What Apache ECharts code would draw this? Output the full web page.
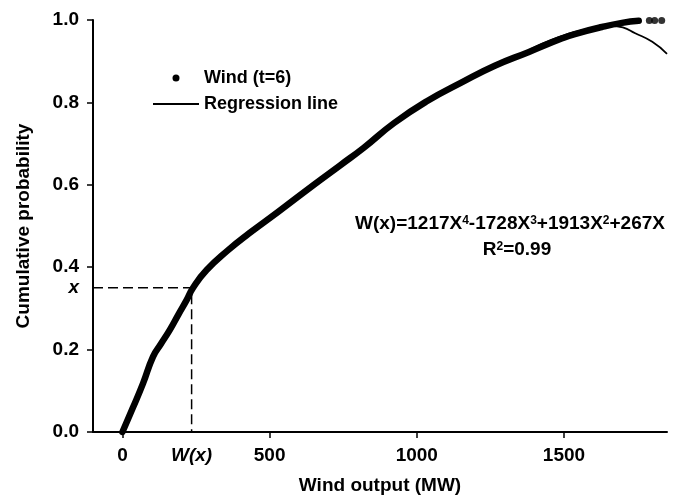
<!DOCTYPE html>
<html>
<head>
<meta charset="utf-8">
<script src="https://cdn.jsdelivr.net/npm/echarts@6/dist/echarts.min.js"></script>
<style>
  html, body { margin: 0; padding: 0; background: #fff; }
  #chart { width: 683px; height: 496px; }
</style>
</head>
<body>
<div id="chart"></div>
<script>
const windOutput = [0, 35, 70, 104, 130, 161, 190, 218, 240, 286, 360, 430, 530, 650, 741, 820, 923, 1037, 1151, 1265, 1379, 1492, 1537, 1629, 1697, 1754];
const windProb = [0, 0.058, 0.118, 0.183, 0.213, 0.248, 0.285, 0.32, 0.35, 0.393, 0.442, 0.482, 0.535, 0.600, 0.648, 0.690, 0.750, 0.804, 0.848, 0.889, 0.922, 0.955, 0.966, 0.983, 0.993, 0.998];

// the few separate points at the top right
const tailOutput = [1790, 1808, 1832];
const tailProb = [0.999, 0.999, 0.999];

// regression line (follows the data, then bends down past ~1650 MW)
const regOutput = [0, 35, 70, 104, 130, 161, 190, 218, 240, 286, 360, 430, 530, 650, 741, 820, 923, 1037, 1151, 1265, 1379, 1424, 1492, 1537, 1600, 1660, 1700, 1742, 1800, 1850];
const regProb = [0, 0.058, 0.118, 0.183, 0.213, 0.248, 0.285, 0.32, 0.35, 0.393, 0.442, 0.482, 0.535, 0.600, 0.648, 0.690, 0.750, 0.804, 0.848, 0.889, 0.926, 0.942, 0.961, 0.971, 0.981, 0.986, 0.982, 0.968, 0.947, 0.918];

// axis ticks
const xTicks = [0, 500, 1000, 1500];
const yTicks = [0, 0.2, 0.4, 0.6, 0.8, 1.0];

// W(x) read-off example (dashed guide)
const guideOutput = 235;
const guideProb = 0.35;

const FONT = '"Liberation Sans", Arial, sans-serif';
const zip = (xs, ys) => xs.map((x, i) => [x, ys[i]]);

const chart = echarts.init(document.getElementById('chart'));

// superscript style for the equation texts
const supRich = {
    s: { fontSize: 12, fontWeight: 'bold', fontFamily: FONT, verticalAlign: 'top', fill: '#000' }
};

const option = {
    animation: false,
    textStyle: { fontFamily: FONT, color: '#000' },
    grid: { left: 93, right: 16, top: 20, bottom: 64, outerBoundsMode: 'none' },
    legend: {
        orient: 'vertical',
        left: 147,
        top: 64,
        itemWidth: 46,
        itemHeight: 7,
        itemGap: 8,
        textStyle: { fontSize: 18, fontWeight: 'bold', color: '#000', fontFamily: FONT },
        data: [
            { name: 'Wind (t=6)', icon: 'circle' },
            { name: 'Regression line', itemStyle: { opacity: 0 } }
        ]
    },
    xAxis: {
        type: 'value',
        min: -100,
        max: 1850,
        name: 'Wind output (MW)',
        nameLocation: 'middle',
        nameGap: 44,
        nameTextStyle: { fontSize: 19, fontWeight: 'bold', color: '#000', fontFamily: FONT },
        axisLine: { onZero: false, lineStyle: { color: '#000', width: 2 } },
        axisTick: { show: true, customValues: xTicks, length: 6, lineStyle: { color: '#000', width: 1.5 } },
        axisLabel: {
            customValues: [...xTicks, guideOutput],
            margin: 14,
            fontSize: 19,
            fontWeight: 'bold',
            color: '#000',
            fontFamily: FONT,
            formatter: v => v === guideOutput ? '{i|W(x)}' : String(v),
            rich: { i: { fontStyle: 'italic', fontWeight: 'bold', fontSize: 19, color: '#000', fontFamily: FONT } }
        },
        splitLine: { show: false }
    },
    yAxis: {
        type: 'value',
        min: 0,
        max: 1,
        interval: 0.2,
        name: 'Cumulative probability',
        nameLocation: 'middle',
        nameGap: 60,
        nameTextStyle: { fontSize: 19, fontWeight: 'bold', color: '#000', fontFamily: FONT },
        axisLine: { show: true, onZero: false, lineStyle: { color: '#000', width: 2 } },
        axisTick: { show: true, customValues: yTicks, length: 6, lineStyle: { color: '#000', width: 1.5 } },
        axisLabel: {
            customValues: [...yTicks, guideProb],
            margin: 14,
            fontSize: 19,
            fontWeight: 'bold',
            color: '#000',
            fontFamily: FONT,
            formatter: v => v === guideProb ? '{i|x}' : v.toFixed(1),
            rich: { i: { fontStyle: 'italic', fontWeight: 'bold', fontSize: 19, color: '#000', fontFamily: FONT } }
        },
        splitLine: { show: false }
    },
    series: [
        {
            name: 'Wind (t=6)',
            type: 'line',
            data: zip(windOutput, windProb),
            symbol: 'none',
            showSymbol: false,
            smooth: 0.5,
            clip: false,
            itemStyle: { color: '#000' },
            lineStyle: { color: '#000', width: 6.5, cap: 'round', join: 'round' },
            z: 2
        },
        {
            name: 'Wind (t=6)',
            type: 'scatter',
            data: zip(tailOutput, tailProb),
            symbolSize: 7,
            clip: false,
            itemStyle: { color: '#000' },
            z: 2
        },
        {
            name: 'Regression line',
            type: 'line',
            data: zip(regOutput, regProb),
            symbol: 'none',
            showSymbol: false,
            smooth: 0.5,
            clip: false,
            itemStyle: { color: '#000' },
            lineStyle: { color: '#000', width: 1.8 },
            z: 3
        },
        {
            name: 'guide',
            type: 'line',
            data: [[-100, guideProb], [guideOutput, guideProb], [guideOutput, 0]],
            symbol: 'none',
            silent: true,
            lineStyle: { color: '#000', width: 1.5, type: [10, 5] },
            z: 1
        }
    ],
    graphic: [
        {
            type: 'text',
            x: 510,
            y: 224,
            style: {
                text: 'W(x)=1217X{s|4}-1728X{s|3}+1913X{s|2}+267X',
                fontSize: 19,
                fontWeight: 'bold',
                fontFamily: FONT,
                fill: '#000',
                align: 'center',
                verticalAlign: 'middle',
                rich: supRich
            }
        },
        {
            type: 'text',
            x: 517,
            y: 250,
            style: {
                text: 'R{s|2}=0.99',
                fontSize: 19,
                fontWeight: 'bold',
                fontFamily: FONT,
                fill: '#000',
                align: 'center',
                verticalAlign: 'middle',
                rich: supRich
            }
        }
    ]
};

chart.setOption(option);
</script>
</body>
</html>
